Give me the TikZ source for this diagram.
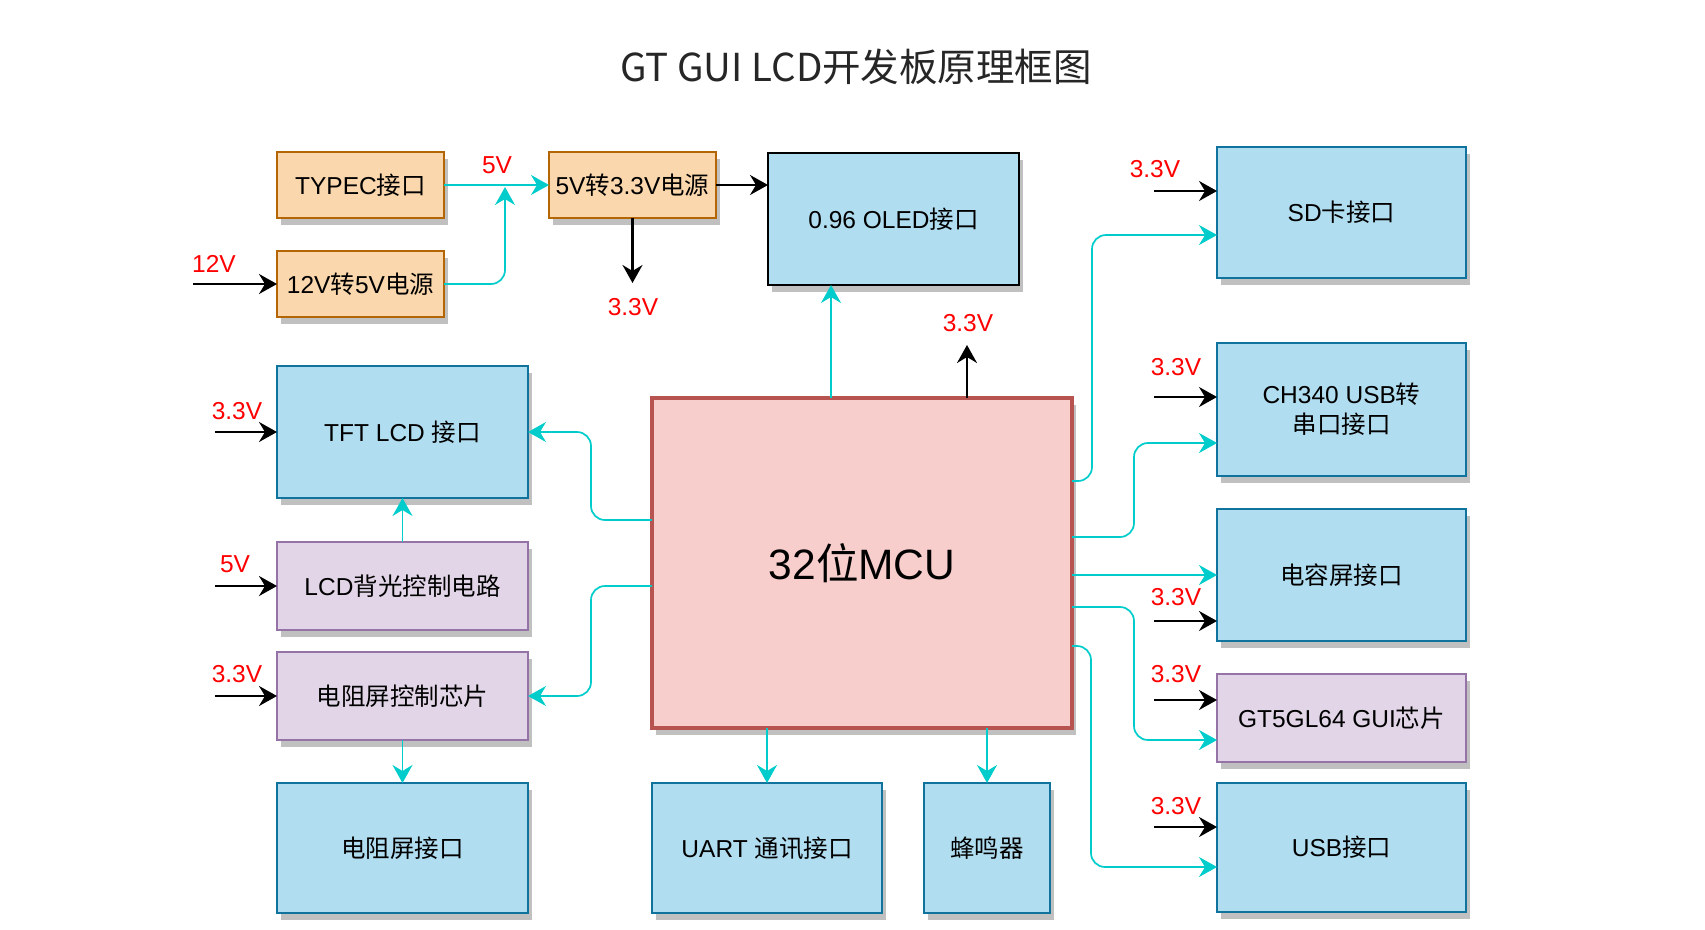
\documentclass[tikz,border=0pt]{standalone}
\usepackage{fontspec}
\setmainfont{Liberation Sans}
\newfontfamily\cjk{Noto Sans CJK SC}
\usetikzlibrary{arrows.meta,shadows}
\definecolor{orfill}{HTML}{FAD7AC}
\definecolor{ordraw}{HTML}{B46504}
\definecolor{blfill}{HTML}{B1DDF0}
\definecolor{bldraw}{HTML}{10739E}
\definecolor{pufill}{HTML}{E1D5E7}
\definecolor{pudraw}{HTML}{9673A6}
\definecolor{mcufill}{HTML}{F8CECC}
\definecolor{mcudraw}{HTML}{B85450}
\definecolor{cyanline}{HTML}{00CCCC}
\definecolor{shadowgray}{HTML}{C0C0C0}
\definecolor{titlegray}{HTML}{262626}
\tikzset{
  box/.style={draw, line width=2pt, inner sep=0pt, outer sep=0pt, align=center,
    text=black, font=\fontsize{24.5}{30}\selectfont,
    general shadow={fill=shadowgray, draw=none, shadow xshift=4pt, shadow yshift=-7pt}},
  orbox/.style={box, fill=orfill, draw=ordraw},
  blbox/.style={box, fill=blfill, draw=bldraw},
  pubox/.style={box, fill=pufill, draw=pudraw},
  mcubox/.style={box, fill=mcufill, draw=mcudraw, line width=3.5pt, font=\fontsize{42.5}{48}\selectfont},
  vlabel/.style={text=red, inner sep=0pt, font=\fontsize{24.5}{30}\selectfont},
  blk/.style={draw=black, line width=2.2pt, -{Stealth[length=18pt,width=20pt,inset=6pt]}},
  cy/.style={draw=cyanline, line width=1.7pt, rounded corners=14pt, -{Stealth[length=18pt,width=20pt,inset=6pt]}},
}
\begin{document}
\begin{tikzpicture}[x=1pt,y=-1pt]
\useasboundingbox (0,0) rectangle (1705,929);
% title
\node[text=titlegray, font=\cjk\fontsize{38.5}{44}\selectfont, inner sep=0pt] (title) at (856,67) {GT GUI LCD开发板原理框图};
% boxes
\node[orbox, minimum width=167pt, minimum height=66pt] (typec) at (360.5,185) {TYPEC{\cjk 接口}};
\node[orbox, minimum width=167pt, minimum height=66pt] (p12) at (360.5,284) {12V{\cjk 转}5V{\cjk 电源}};
\node[orbox, minimum width=167pt, minimum height=66pt] (p33) at (632.5,185) {5V{\cjk 转}3.3V{\cjk 电源}};
\node[blbox, draw=black, minimum width=251pt, minimum height=132pt] (oled) at (893.5,219) {0.96 OLED{\cjk 接口}};
\node[blbox, minimum width=251pt, minimum height=132pt] (tft) at (402.5,432) {TFT LCD {\cjk 接口}};
\node[pubox, minimum width=251pt, minimum height=88pt] (bl) at (402.5,586) {LCD{\cjk 背光控制电路}};
\node[pubox, minimum width=251pt, minimum height=88pt] (rc) at (402.5,696) {\cjk 电阻屏控制芯片};
\node[blbox, minimum width=251pt, minimum height=130pt] (rs) at (402.5,848) {\cjk 电阻屏接口};
\node[mcubox, minimum width=420pt, minimum height=330pt] (mcu) at (862,563) {32{\cjk 位}MCU};
\node[blbox, minimum width=230pt, minimum height=130pt] (uart) at (767,848) {UART {\cjk 通讯接口}};
\node[blbox, minimum width=126pt, minimum height=130pt] (buz) at (987,848) {\cjk 蜂鸣器};
\node[blbox, minimum width=249pt, minimum height=131pt] (sd) at (1341.5,212.5) {SD{\cjk 卡接口}};
\node[blbox, minimum width=249pt, minimum height=133pt] (ch) at (1341.5,409.5) {CH340 USB{\cjk 转}\\{\cjk 串口接口}};
\node[blbox, minimum width=249pt, minimum height=132pt] (cap) at (1341.5,575) {\cjk 电容屏接口};
\node[pubox, minimum width=249pt, minimum height=88pt] (gt) at (1341.5,718) {GT5GL64 GUI{\cjk 芯片}};
\node[blbox, minimum width=249pt, minimum height=129pt] (usb) at (1341.5,847.5) {USB{\cjk 接口}};
% voltage labels
\node[vlabel] (v12) at (214,264) {12V};
\node[vlabel] (v5a) at (497,165) {5V};
\node[vlabel] (v33a) at (633,307) {3.3V};
\node[vlabel] (v33b) at (968,323) {3.3V};
\node[vlabel] (v33c) at (237,411) {3.3V};
\node[vlabel] (v5b) at (235,564) {5V};
\node[vlabel] (v33d) at (237,674) {3.3V};
\node[vlabel] (v33e) at (1155,169) {3.3V};
\node[vlabel] (v33f) at (1176,367) {3.3V};
\node[vlabel] (v33g) at (1176,597) {3.3V};
\node[vlabel] (v33h) at (1176,674) {3.3V};
\node[vlabel] (v33i) at (1176,806) {3.3V};
% free ends
\coordinate (in12) at (193,284);
\coordinate (merge) at (505,187);
\coordinate (out33) at (632.5,283);
\coordinate (mcu33) at (967,345);
\coordinate (intft) at (215,432);
\coordinate (inbl) at (215,586);
\coordinate (inrc) at (215,696);
\coordinate (insd) at (1154,191);
\coordinate (inch) at (1154,397);
\coordinate (incap) at (1154,621);
\coordinate (ingt) at (1154,700);
\coordinate (inusb) at (1154,827);
% power connectors
\draw[blk] (in12) -- (p12.west);
\draw[cy] (typec.east) -- (p33.west);
\draw[cy] (p12.east) -- (merge |- p12.east) -- (merge);
\draw[blk] (p33.east) -- (p33.east -| oled.west);
\draw[blk] (p33.south) -- (out33);
% mcu top
\draw[cy] (mcu.north -| 831,0) -- (oled.south -| 831,0);
\draw[blk] (mcu.north -| mcu33) -- (mcu33);
% left side
\draw[blk] (intft) -- (tft.west);
\draw[blk] (inbl) -- (bl.west);
\draw[blk] (inrc) -- (rc.west);
\draw[cy] (mcu.west |- 0,520) -- (591,520) -- (591,432) -- (tft.east);
\draw[cy] (mcu.west |- 0,586) -- (591,586) -- (591,696) -- (rc.east);
\draw[cy] (bl.north) -- (tft.south);
\draw[cy] (rc.south) -- (rs.north);
% bottom
\draw[cy] (mcu.south -| uart.north) -- (uart.north);
\draw[cy] (mcu.south -| buz.north) -- (buz.north);
% right side
\draw[blk] (insd) -- (insd -| sd.west);
\draw[blk] (inch) -- (inch -| ch.west);
\draw[blk] (incap) -- (incap -| cap.west);
\draw[blk] (ingt) -- (ingt -| gt.west);
\draw[blk] (inusb) -- (inusb -| usb.west);
\draw[cy] (mcu.east |- 0,481) -- (1092,481) -- (1092,235) -- (sd.west |- 0,235);
\draw[cy] (mcu.east |- 0,537) -- (1134,537) -- (1134,443) -- (ch.west |- 0,443);
\draw[cy] (mcu.east |- 0,575) -- (cap.west |- 0,575);
\draw[cy] (mcu.east |- 0,607) -- (1134,607) -- (1134,740) -- (gt.west |- 0,740);
\draw[cy] (mcu.east |- 0,646) -- (1091,646) -- (1091,867) -- (usb.west |- 0,867);
\end{tikzpicture}
\end{document}
